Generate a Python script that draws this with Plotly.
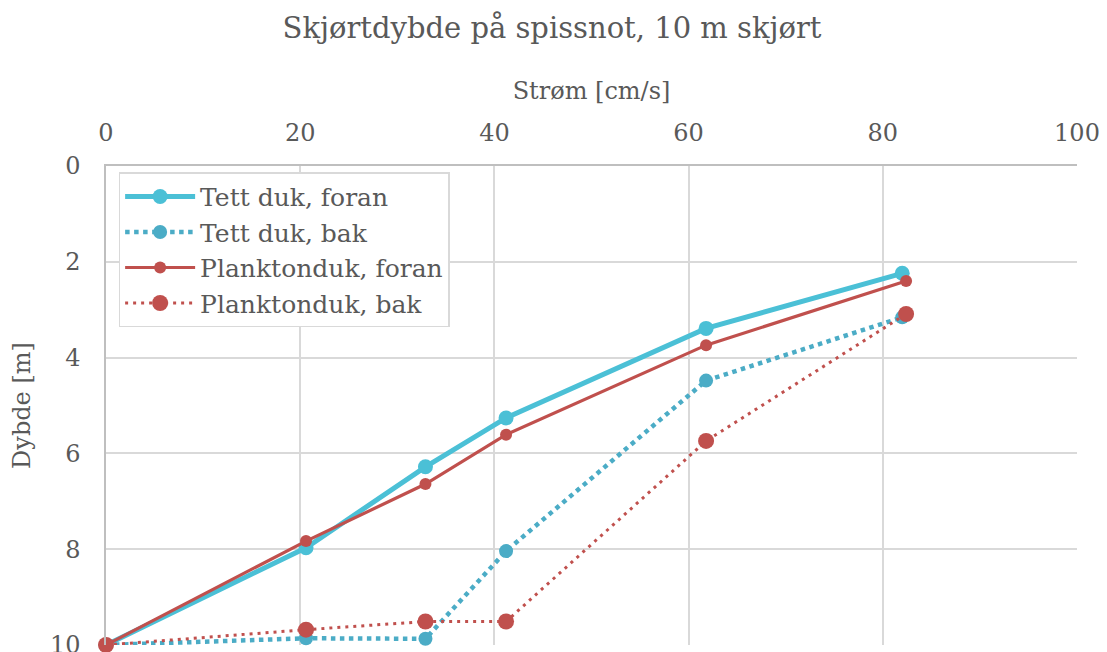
import plotly.graph_objects as go

# Data
tett_x = [0, 20.6, 32.9, 41.2, 61.8, 82.0]
tett_foran = [10, 7.97, 6.28, 5.26, 3.39, 2.24]
tett_bak_x = [0, 20.6, 32.9, 41.2, 61.8, 82.0]
tett_bak = [10, 9.86, 9.87, 8.04, 4.48, 3.16]
plankton_x = [0, 20.6, 32.9, 41.2, 61.8, 82.4]
plankton_foran = [10, 7.83, 6.64, 5.61, 3.74, 2.40]
plankton_bak = [10, 9.68, 9.51, 9.51, 5.74, 3.09]

names = ["Tett duk, foran", "Tett duk, bak", "Planktonduk, foran", "Planktonduk, bak"]
x_ticks = [0, 20, 40, 60, 80, 100]
y_ticks = [0, 2, 4, 6, 8, 10]

FONT = "DejaVu Serif"
GREY = "#595959"
BLUE = "#4BC0D6"
BLUE2 = "#4BACC6"
RED = "#C0504D"

fig = go.Figure()
fig.add_trace(go.Scatter(x=tett_x, y=tett_foran, name=names[0], mode="lines+markers",
                         line=dict(color=BLUE, width=5), marker=dict(color=BLUE, size=15),
                         cliponaxis=False))
fig.add_trace(go.Scatter(x=tett_bak_x, y=tett_bak, name=names[1], mode="lines+markers",
                         line=dict(color=BLUE2, width=4.5, dash="4.5px,4.5px"),
                         marker=dict(color=BLUE2, size=14), cliponaxis=False))
fig.add_trace(go.Scatter(x=plankton_x, y=plankton_foran, name=names[2], mode="lines+markers",
                         line=dict(color=RED, width=3.2), marker=dict(color=RED, size=12),
                         cliponaxis=False))
fig.add_trace(go.Scatter(x=plankton_x, y=plankton_bak, name=names[3], mode="lines+markers",
                         line=dict(color=RED, width=3, dash="3px,5px"),
                         marker=dict(color=RED, size=16), cliponaxis=False))

fig.update_layout(
    width=1107, height=652,
    margin=dict(l=98, r=38, t=158, b=15),
    paper_bgcolor="white", plot_bgcolor="white",
    font=dict(family=FONT, color=GREY, size=24),
    title=dict(text="Skjørtdybde på spissnot, 10 m skjørt", x=(552 - 8) / 1107, xanchor="center",
               y=1 - 20 / 652, yanchor="middle", yref="container",
               font=dict(family=FONT, size=29, color=GREY)),
    xaxis=dict(side="top", range=[0, 100], tickvals=x_ticks, showgrid=True,
               gridcolor="#D9D9D9", gridwidth=1.5, showline=True, linecolor="#BFBFBF",
               linewidth=1.5, zeroline=False, ticks="", ticklabelstandoff=14,
               automargin=False, tickfont=dict(size=24),
               title=dict(text="Strøm [cm/s]", standoff=12, font=dict(size=24))),
    yaxis=dict(range=[10, 0], tickvals=y_ticks, showgrid=True, gridcolor="#D9D9D9",
               gridwidth=1.5, showline=True, linecolor="#BFBFBF", linewidth=1.5,
               zeroline=False, ticks="", ticklabelstandoff=19, automargin=False,
               tickfont=dict(size=24),
               title=dict(text="Dybde [m]", standoff=27, font=dict(size=24))),
    legend=dict(x=0.013, y=0.987, xanchor="left", yanchor="top",
                bgcolor="white", bordercolor="#D9D9D9", borderwidth=1.5,
                font=dict(family=FONT, size=25, color=GREY), itemwidth=70,
                tracegroupgap=0),
    showlegend=True,
)

fig.write_html("out.html")
